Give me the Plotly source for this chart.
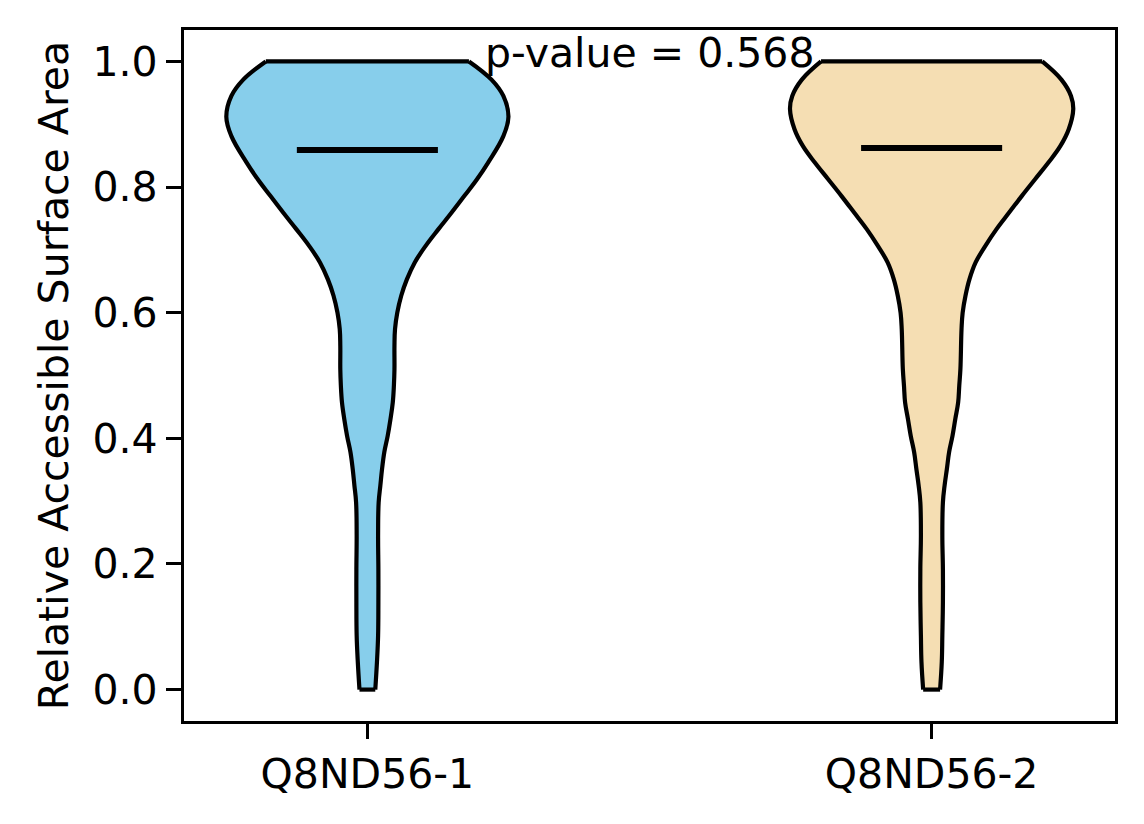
import plotly.graph_objects as go

# ---- data ----
CATEGORIES = ["Q8ND56-1", "Q8ND56-2"]
POSITIONS = [1, 2]
FILL_COLORS = ["#87CEEB", "#F5DEB3"]
MEANS = [0.859, 0.862]
P_VALUE_TEXT = "p-value = 0.568"

# violin outline profile: value level -> half width (x units)
V1_LEVELS = [0.0, 0.044, 0.086, 0.139, 0.192, 0.245, 0.298, 0.325, 0.351, 0.378, 0.404,
             0.431, 0.457, 0.484, 0.510, 0.547, 0.574, 0.600, 0.627, 0.653, 0.680, 0.706,
             0.733, 0.759, 0.786, 0.812, 0.839, 0.881, 0.912, 0.945, 0.971, 1.0]
V1_HALF = [0.014, 0.017, 0.019, 0.0195, 0.0195, 0.019, 0.020, 0.023, 0.026, 0.030, 0.036,
           0.041, 0.045, 0.047, 0.048, 0.048, 0.049, 0.053, 0.060, 0.070, 0.084, 0.103,
           0.126, 0.149, 0.172, 0.194, 0.214, 0.241, 0.250, 0.241, 0.220, 0.180]

V2_LEVELS = [0.0, 0.044, 0.086, 0.139, 0.192, 0.245, 0.298, 0.325, 0.351, 0.378, 0.404,
             0.431, 0.457, 0.484, 0.510, 0.574, 0.600, 0.627, 0.653, 0.680, 0.706, 0.733,
             0.759, 0.786, 0.812, 0.839, 0.865, 0.892, 0.924, 0.945, 0.971, 1.0]
V2_HALF = [0.015, 0.018, 0.019, 0.020, 0.020, 0.019, 0.020, 0.023, 0.027, 0.031, 0.037,
           0.042, 0.047, 0.049, 0.051, 0.053, 0.055, 0.060, 0.067, 0.078, 0.095, 0.115,
           0.137, 0.160, 0.183, 0.207, 0.228, 0.243, 0.251, 0.247, 0.230, 0.196]

Y_TICKS = [0.0, 0.2, 0.4, 0.6, 0.8, 1.0]

# ---- styling ----
FONT = "DejaVu Sans"
FS = 41
EDGE_W = 4.2
AX_W = 3.3
MEAN_HALF = 0.125
SMOOTH = 1.1

fig = go.Figure()
profiles = [(V1_LEVELS, V1_HALF), (V2_LEVELS, V2_HALF)]

for pos, color, (lv, hw) in zip(POSITIONS, FILL_COLORS, profiles):
    left_x = [pos - h for h in hw]
    right_x = [pos + h for h in hw]
    fig.add_trace(go.Scatter(x=left_x, y=lv, mode="lines",
                             line=dict(width=0, shape="spline", smoothing=SMOOTH, color=color),
                             hoverinfo="skip", showlegend=False))
    fig.add_trace(go.Scatter(x=right_x, y=lv, mode="lines", fill="tonextx", fillcolor=color,
                             line=dict(width=0, shape="spline", smoothing=SMOOTH, color=color),
                             hoverinfo="skip", showlegend=False))

for pos, (lv, hw) in zip(POSITIONS, profiles):
    left_x = [pos - h for h in hw]
    right_x = [pos + h for h in hw]
    for xs in (left_x, right_x):
        fig.add_trace(go.Scatter(x=xs, y=lv, mode="lines",
                                 line=dict(width=EDGE_W, shape="spline", smoothing=SMOOTH, color="black"),
                                 hoverinfo="skip", showlegend=False))
    for i in (0, -1):
        fig.add_trace(go.Scatter(x=[left_x[i], right_x[i]], y=[lv[i], lv[i]], mode="lines",
                                 line=dict(width=EDGE_W, color="black"),
                                 hoverinfo="skip", showlegend=False))

for pos, m in zip(POSITIONS, MEANS):
    fig.add_trace(go.Scatter(x=[pos - MEAN_HALF, pos + MEAN_HALF], y=[m, m], mode="lines",
                             line=dict(width=6, color="black"),
                             hoverinfo="skip", showlegend=False))

fig.add_annotation(x=sum(POSITIONS) / 2, y=1.013, xref="x", yref="y", text=P_VALUE_TEXT,
                   showarrow=False, xanchor="center", yanchor="middle",
                   font=dict(family=FONT, size=FS, color="black"))

fig.update_layout(
    width=1136, height=816,
    margin=dict(l=176, r=29, t=22, b=103),
    paper_bgcolor="white", plot_bgcolor="white",
    font=dict(family=FONT, size=FS, color="black"),
    showlegend=False,
)
fig.update_xaxes(range=[0.675, 2.325], tickvals=POSITIONS, ticktext=CATEGORIES,
                 showline=True, mirror=True, linecolor="black", linewidth=AX_W,
                 ticks="outside", ticklen=15, tickwidth=AX_W, tickcolor="black",
                 showgrid=False, zeroline=False, tickfont=dict(size=FS))
fig.update_yaxes(range=[-0.05, 1.05], tickvals=Y_TICKS, ticktext=[f"{v:.1f}" for v in Y_TICKS],
                 showline=True, mirror=True, linecolor="black", linewidth=AX_W,
                 ticks="outside", ticklen=15, tickwidth=AX_W, tickcolor="black",
                 showgrid=False, zeroline=False, tickfont=dict(size=FS),
                 title=dict(text="Relative Accessible Surface Area", font=dict(size=FS), standoff=12))

fig.write_html("out.html")
